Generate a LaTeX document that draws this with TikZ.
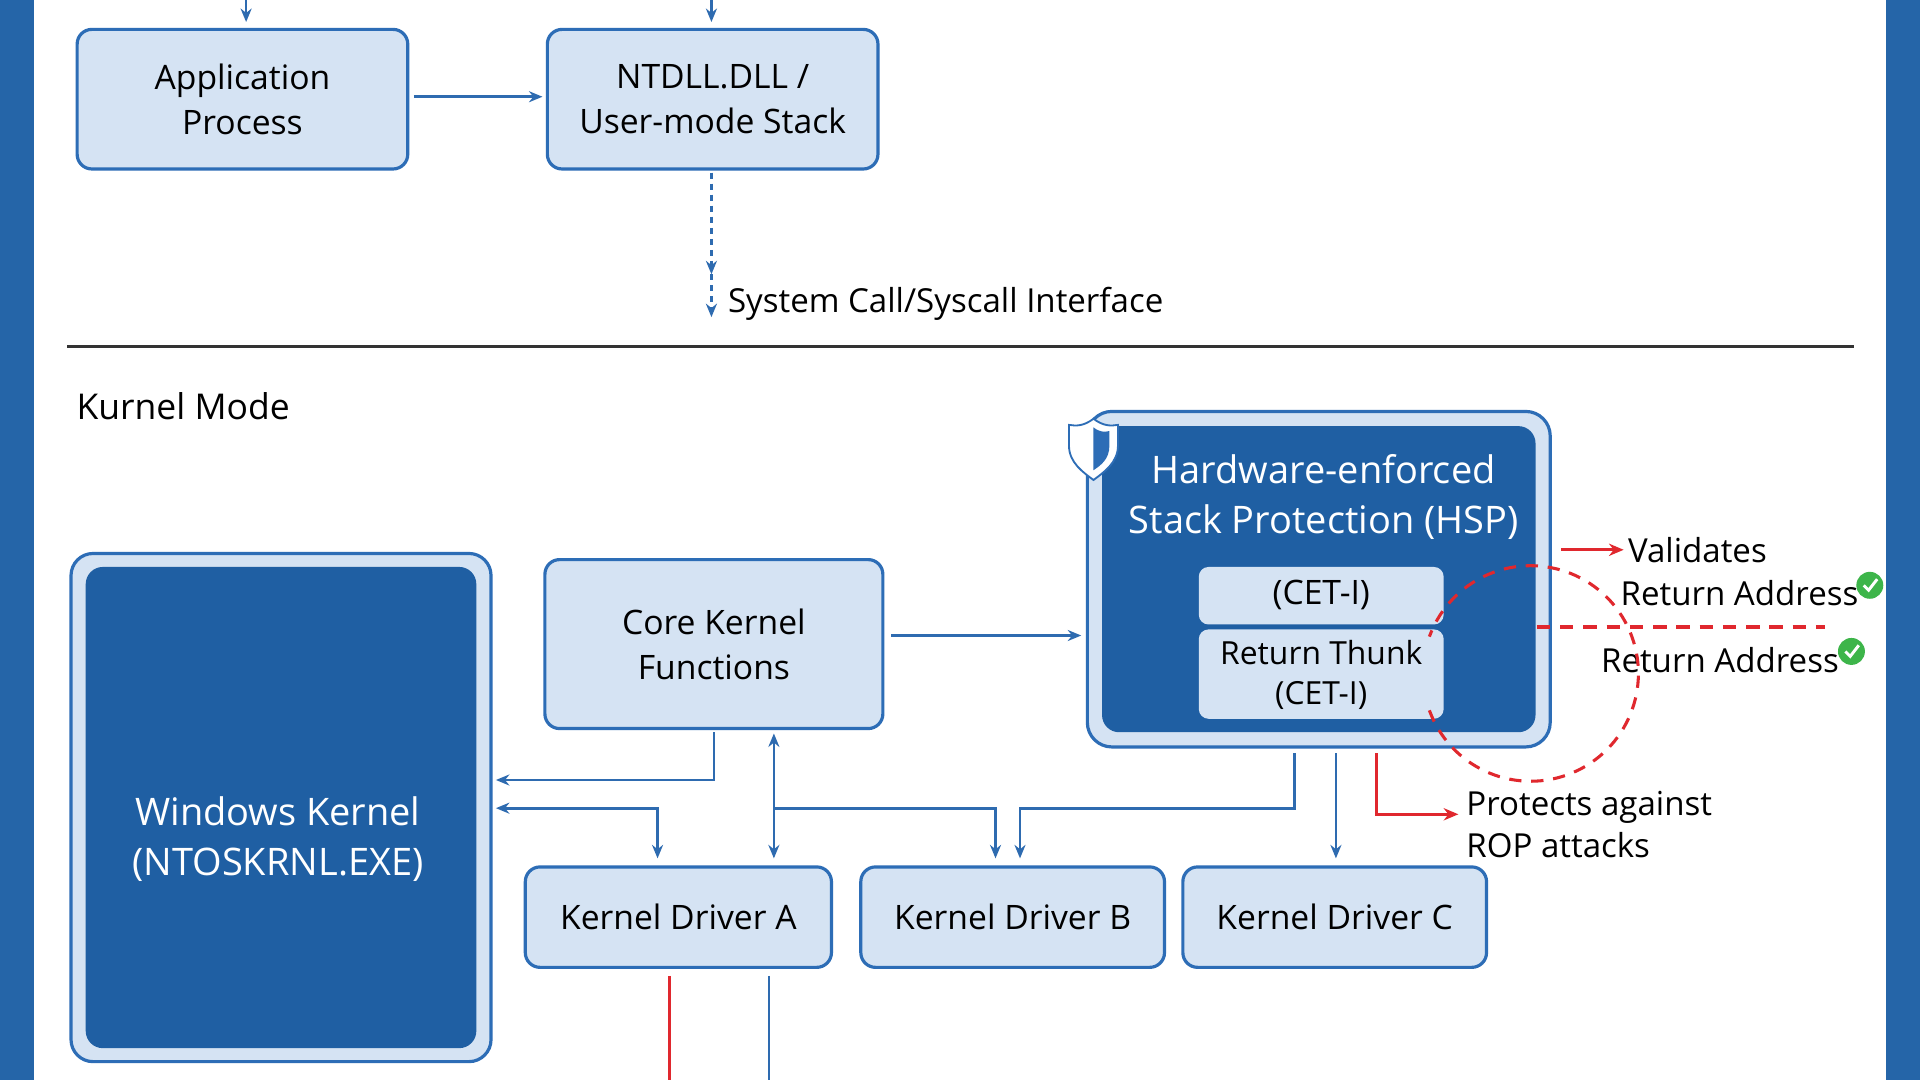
\documentclass[tikz,border=0pt]{standalone}
\usepackage{fontspec}
\setmainfont{Open Sans}
\usetikzlibrary{arrows.meta}
\definecolor{bar}{HTML}{2565A8}
\definecolor{dk}{HTML}{1F5FA3}
\definecolor{lt}{HTML}{D5E3F3}
\definecolor{bd}{HTML}{2D6DB6}
\definecolor{ln}{HTML}{2E6BB0}
\definecolor{rd}{HTML}{E0282E}
\definecolor{gr}{HTML}{3DB54A}
\begin{document}
\begin{tikzpicture}[x=1pt,y=-1pt,
  box/.style={draw=bd,line width=2.6pt,fill=lt,rounded corners=12pt},
  dkbox/.style={fill=dk,rounded corners=14pt},
  lbl/.style={font=\fontsize{27.5}{37}\selectfont,align=center},
  wlbl/.style={font=\fontsize{31}{41}\selectfont,align=center,text=white},
  txt/.style={font=\fontsize{27}{34}\selectfont,anchor=west},
  conn/.style={draw=ln,line width=2.2pt,-{Stealth[length=11pt,width=9pt]}},
  rconn/.style={draw=rd,line width=2.4pt,-{Stealth[length=12pt,width=10pt]}}]
\useasboundingbox (0,0) rectangle (1568,882);
\fill[white] (0,0) rectangle (1568,882);
\fill[bar] (0,0) rectangle (28,882);
\fill[bar] (1540,0) rectangle (1568,882);
% top
\draw[box] (63,24) rectangle (333,138);
\node[lbl] (app) at (198,81) {Application\\Process};
\draw[box] (447,24) rectangle (717,138);
\node[lbl] (nt) at (582,81) {NTDLL.DLL /\\User-mode Stack};
\coordinate (t1) at (201,0); \coordinate (t1e) at (201,18);
\coordinate (t2) at (581,0); \coordinate (t2e) at (581,18);
\draw[conn] (t1) -- (t1e);
\draw[conn] (t2) -- (t2e);
\coordinate (a1) at (338,79); \coordinate (a2) at (443,79);
\draw[conn] (a1) -- (a2);
\coordinate (d0) at (581,141); \coordinate (d1) at (581,224); \coordinate (d2) at (581,259);
\draw[conn,dash pattern=on 5pt off 4pt] (d0) -- (d1);
\draw[conn,dash pattern=on 5pt off 4pt] (d1) -- (d2);
\node[txt] (sys) at (591,248) {System Call/Syscall Interface};
\draw[line width=2pt,black!80] (55,283) -- (1514,283);
\node[txt,font=\fontsize{29}{34}\selectfont] (km) at (59,332) {Kurnel Mode};
% kernel
\draw[box,rounded corners=18pt] (58,452) rectangle (401,867);
\fill[dkbox] (70,463) rectangle (389,856);
\node[wlbl] (wk) at (227,685) {Windows Kernel\\(NTOSKRNL.EXE)};
% core
\draw[box] (445,457) rectangle (721,595);
\node[lbl] (core) at (583,526) {Core Kernel\\Functions};
% HSP
\draw[box,rounded corners=20pt] (888,336) rectangle (1266,610);
\fill[dkbox] (900,348) rectangle (1254,598);
\node[wlbl] (hsp) at (1081,406) {Hardware-enforced\\Stack Protection (HSP)};
\fill[lt,rounded corners=8pt] (979,463) rectangle (1179,510);
\node[lbl] (cet) at (1079,486) {(CET-I)};
\fill[lt,rounded corners=8pt] (979,514) rectangle (1179,587);
\node[lbl,font=\fontsize{26}{33}\selectfont] (rt) at (1079,551) {Return Thunk\\(CET-I)};
% shield
\begin{scope}[shift={(893,366)}]
\fill[white,draw=bd,line width=1.5pt] (0,-24) .. controls (8,-18) and (14,-18) .. (20,-19) -- (20,-2) .. controls (20,12) and (8,20) .. (0,26) .. controls (-8,20) and (-20,12) .. (-20,-2) -- (-20,-19) .. controls (-14,-18) and (-8,-18) .. (0,-24) -- cycle;
\fill[bd] (0,-17) .. controls (5,-13) and (9,-13) .. (13,-14) -- (13,-2) .. controls (13,9) and (6,14) .. (0,18) -- cycle;
\end{scope}
\coordinate (c1) at (728,519); \coordinate (c2) at (883,519);
\draw[conn] (c1) -- (c2);
% drivers
\draw[box] (429,708) rectangle (679,790);
\node[lbl] (da) at (554,749) {Kernel Driver A};
\draw[box] (703,708) rectangle (951,790);
\node[lbl] (db) at (827,749) {Kernel Driver B};
\draw[box] (966,708) rectangle (1214,790);
\node[lbl] (dc) at (1090,749) {Kernel Driver C};
% connectors
\coordinate (k1) at (583,598); \coordinate (k2) at (405,637);
\draw[conn] (k1) |- (k2);
\coordinate (e1) at (405,660); \coordinate (e2) at (537,701);
\draw[conn,{Stealth[length=11pt,width=9pt]}-{Stealth[length=11pt,width=9pt]}] (e1) -| (e2);
\coordinate (v1) at (632,599); \coordinate (v2) at (632,701);
\draw[conn,{Stealth[length=11pt,width=9pt]}-{Stealth[length=11pt,width=9pt]}] (v1) -- (v2);
\coordinate (b0) at (632,660); \coordinate (b1) at (813,701);
\draw[conn] (b0) -| (b1);
\coordinate (h0) at (1057,615); \coordinate (h1) at (833,701);
\draw[conn] (h0) -- (1057,660) -| (h1);
\coordinate (h2) at (1091,615); \coordinate (h3) at (1091,701);
\draw[conn] (h2) -- (h3);
% red
\coordinate (r0) at (1124,615); \coordinate (r1) at (1191,665);
\draw[rconn] (r0) |- (r1);
\node[txt,align=left,anchor=north west] (rop) at (1194,643) {Protects against\\ROP attacks};
\coordinate (v0) at (1275,449); \coordinate (v3) at (1326,449);
\draw[rconn] (v0) -- (v3);
\node[txt] (val) at (1326,449) {Validates};
\node[txt] (ra1) at (1320,484) {Return Address};
\node[txt] (ra2) at (1304,539) {Return Address};
\draw[rd,line width=2.5pt,dash pattern=on 10pt off 8pt] (1250,550) ++(160:88) arc[start angle=160,end angle=-160,radius=88];
\coordinate (l0) at (1255,512); \coordinate (l1) at (1490,512);
\draw[rd,line width=2.6pt,dash pattern=on 11pt off 8pt] (l0) -- (l1);
\foreach \p in {(1527,478),(1512,532)}{
  \fill[gr] \p circle (11pt);
  \draw[white,line width=2.4pt] \p ++(-5,0) -- ++(4,4) -- ++(7,-9);
}
% bottom lines
\coordinate (x0) at (547,797); \coordinate (x1) at (547,882);
\draw[rd,line width=2.6pt] (x0) -- (x1);
\coordinate (y0) at (628,797); \coordinate (y1) at (628,882);
\draw[ln,line width=2.2pt] (y0) -- (y1);
\end{tikzpicture}
\end{document}
